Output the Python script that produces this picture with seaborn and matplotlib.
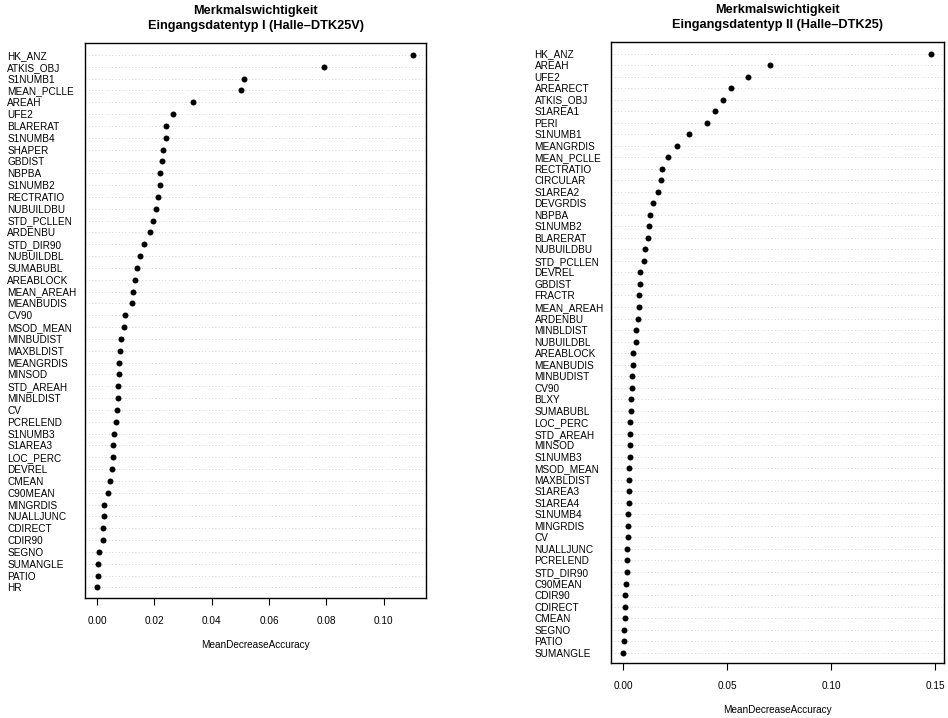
import numpy as np
import pandas as pd
import seaborn as sns
import matplotlib.pyplot as plt

# Eingangsdatentyp I (Halle-DTK25V)
vars_1 = [
    "HK_ANZ", "ATKIS_OBJ", "S1NUMB1", "MEAN_PCLLE", "AREAH", "UFE2", "BLARERAT",
    "S1NUMB4", "SHAPER", "GBDIST", "NBPBA", "S1NUMB2", "RECTRATIO", "NUBUILDBU",
    "STD_PCLLEN", "ARDENBU", "STD_DIR90", "NUBUILDBL", "SUMABUBL", "AREABLOCK",
    "MEAN_AREAH", "MEANBUDIS", "CV90", "MSOD_MEAN", "MINBUDIST", "MAXBLDIST",
    "MEANGRDIS", "MINSOD", "STD_AREAH", "MINBLDIST", "CV", "PCRELEND", "S1NUMB3",
    "S1AREA3", "LOC_PERC", "DEVREL", "CMEAN", "C90MEAN", "MINGRDIS", "NUALLJUNC",
    "CDIRECT", "CDIR90", "SEGNO", "SUMANGLE", "PATIO", "HR",
]
mda_1 = [
    0.1101, 0.0792, 0.0513, 0.0502, 0.0334, 0.0264, 0.0241,
    0.0240, 0.0230, 0.0226, 0.0221, 0.0220, 0.0213, 0.0206,
    0.0195, 0.0184, 0.0164, 0.0149, 0.0141, 0.0134,
    0.0126, 0.0123, 0.0099, 0.0095, 0.0082, 0.0079,
    0.0076, 0.0075, 0.0074, 0.0072, 0.0070, 0.0065, 0.0058,
    0.0057, 0.0056, 0.0053, 0.0044, 0.0038, 0.0025, 0.0024,
    0.0021, 0.0020, 0.0008, 0.0004, 0.0003, 0.0001,
]

# Eingangsdatentyp II (Halle-DTK25)
vars_2 = [
    "HK_ANZ", "AREAH", "UFE2", "AREARECT", "ATKIS_OBJ", "S1AREA1", "PERI",
    "S1NUMB1", "MEANGRDIS", "MEAN_PCLLE", "RECTRATIO", "CIRCULAR", "S1AREA2",
    "DEVGRDIS", "NBPBA", "S1NUMB2", "BLARERAT", "NUBUILDBU", "STD_PCLLEN",
    "DEVREL", "GBDIST", "FRACTR", "MEAN_AREAH", "ARDENBU", "MINBLDIST",
    "NUBUILDBL", "AREABLOCK", "MEANBUDIS", "MINBUDIST", "CV90", "BLXY",
    "SUMABUBL", "LOC_PERC", "STD_AREAH", "MINSOD", "S1NUMB3", "MSOD_MEAN",
    "MAXBLDIST", "S1AREA3", "S1AREA4", "S1NUMB4", "MINGRDIS", "CV", "NUALLJUNC",
    "PCRELEND", "STD_DIR90", "C90MEAN", "CDIR90", "CDIRECT", "CMEAN", "SEGNO",
    "PATIO", "SUMANGLE",
]
mda_2 = [
    0.1482, 0.0708, 0.0603, 0.0520, 0.0479, 0.0440, 0.0405,
    0.0315, 0.0258, 0.0218, 0.0187, 0.0181, 0.0170,
    0.0142, 0.0130, 0.0125, 0.0118, 0.0107, 0.0101,
    0.0082, 0.0080, 0.0078, 0.0075, 0.0070, 0.0062,
    0.0061, 0.0050, 0.0048, 0.0045, 0.0042, 0.0040,
    0.0038, 0.0035, 0.0034, 0.0033, 0.0032, 0.0030,
    0.0030, 0.0027, 0.0027, 0.0024, 0.0022, 0.0022, 0.0021,
    0.0019, 0.0018, 0.0016, 0.0010, 0.0008, 0.0008, 0.0006,
    0.0003, 0.0002,
]

titles = [
    "Merkmalswichtigkeit\nEingangsdatentyp I (Halle\u2013DTK25V)",
    "Merkmalswichtigkeit\nEingangsdatentyp II (Halle\u2013DTK25)",
]
xticks_1 = [0.00, 0.02, 0.04, 0.06, 0.08, 0.10]
xticks_2 = [0.00, 0.05, 0.10, 0.15]


def _dotchart(ax, names, values, xlim, xticks, title, label_pad):
    df = pd.DataFrame({"var": names, "MeanDecreaseAccuracy": values})
    n = len(names)
    for i in range(n):
        ax.axhline(i, color="#c4c4c4", lw=0.6, ls=(0, (1, 3)), zorder=1)
    sns.stripplot(
        data=df,
        x="MeanDecreaseAccuracy",
        y="var",
        order=names,
        jitter=False,
        color="black",
        size=4.3,
        linewidth=0,
        ax=ax,
        zorder=3,
    )
    ax.set_xlim(xlim)
    ax.set_ylim(n - 1 + 0.9, -1.0)
    ax.set_xticks(xticks)
    ax.set_xticklabels([f"{t:.2f}" for t in xticks])
    ax.set_ylabel("")
    ax.set_xlabel("MeanDecreaseAccuracy", fontsize=7.2, labelpad=10, color="black")
    ax.set_title(title, fontsize=9.2, fontweight="bold", pad=10, linespacing=1.4,
                 color="black")
    ax.tick_params(axis="y", length=0, pad=label_pad, labelsize=7.2,
                   labelcolor="black")
    for lab in ax.get_yticklabels():
        lab.set_horizontalalignment("left")
    ax.tick_params(axis="x", direction="out", length=5, width=0.8, pad=8,
                   labelsize=7.2, bottom=True, color="black", labelcolor="black")
    for sp in ax.spines.values():
        sp.set_visible(True)
        sp.set_color("black")
        sp.set_linewidth(1.0)


def main():
    sns.set_theme(style="white")
    plt.rcParams["font.family"] = ["Liberation Sans", "DejaVu Sans"]

    fig = plt.figure(figsize=(9.48, 7.18), dpi=100)
    ax1 = fig.add_axes([85 / 948, 1 - 598 / 718, (426 - 85) / 948, (598 - 43) / 718])
    ax2 = fig.add_axes([611 / 948, 1 - 663 / 718, (944 - 611) / 948, (663 - 42) / 718])

    _dotchart(ax1, vars_1, mda_1, (-0.0042, 0.1148), xticks_1, titles[0], 56)
    _dotchart(ax2, vars_2, mda_2, (-0.0058, 0.1543), xticks_2, titles[1], 55)

    fig.savefig("out.png", dpi=100)
    plt.close()


if __name__ == "__main__":
    main()
